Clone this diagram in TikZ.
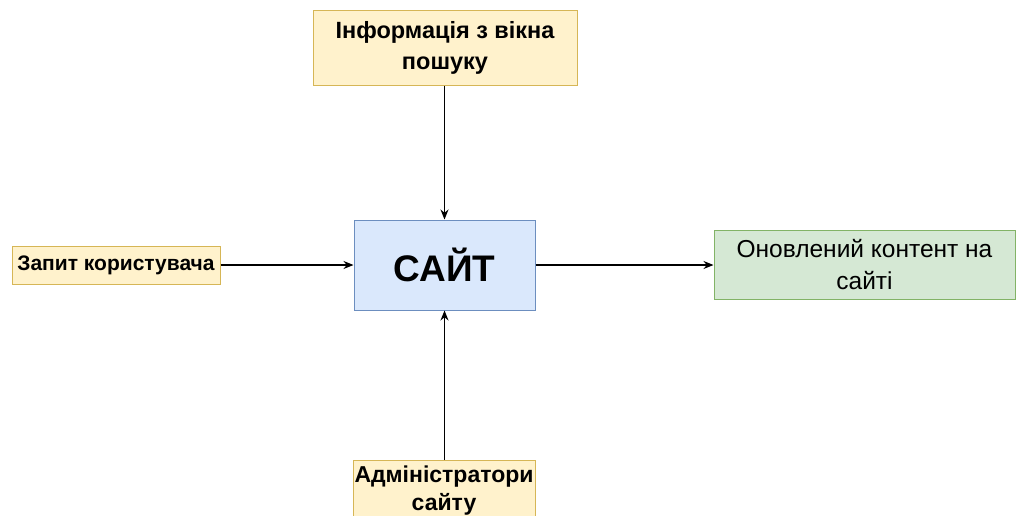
\documentclass[tikz,border=0pt]{standalone}
\usepackage{fontspec}
\setmainfont{Liberation Sans}
\usetikzlibrary{arrows.meta}
\definecolor{inFill}{HTML}{FFF2CC}
\definecolor{inLine}{HTML}{D6B656}
\definecolor{coreFill}{HTML}{DAE8FC}
\definecolor{coreLine}{HTML}{6C8EBF}
\definecolor{outFill}{HTML}{D5E8D4}
\definecolor{outLine}{HTML}{82B366}
\tikzset{
  boxbase/.style={draw, line width=1pt, inner sep=0pt, align=center, text=black},
  inbox/.style={boxbase, fill=inFill, draw=inLine},
  corebox/.style={boxbase, fill=coreFill, draw=coreLine},
  outbox/.style={boxbase, fill=outFill, draw=outLine},
  flow/.style={draw=black, line width=1.2pt, -{Stealth[length=10pt,width=8pt]}}
}
\begin{document}
\begin{tikzpicture}[x=1pt,y=-1pt]
  \useasboundingbox (0,0) rectangle (1017,515);
  \clip (0,0) rectangle (1017,515);
  % inputs, process and result
  \node[inbox, minimum width=264pt, minimum height=75pt,
        font=\fontsize{23.5}{31}\selectfont\bfseries] (search) at (445,47.5)
        {Інформація з вікна\\пошуку};
  \node[inbox, minimum width=208pt, minimum height=38pt,
        font=\fontsize{21}{24}\selectfont\bfseries] (query) at (116,265)
        {Запит користувача};
  \node[corebox, minimum width=181pt, minimum height=90pt,
        font=\fontsize{37}{40}\selectfont\bfseries] (site) at (444.5,265)
        {САЙТ};
  \node[outbox, minimum width=301pt, minimum height=69pt,
        font=\fontsize{24.5}{32}\selectfont] (result) at (864.5,264.5)
        {Оновлений контент на\\сайті};
  \node[inbox, minimum width=182pt, minimum height=62pt,
        font=\fontsize{23}{28}\selectfont\bfseries] (admin) at (444,491)
        {Адміністратори\\сайту};
  % connectors
  \draw[flow] (search.south -| site.north) -- (site.north);
  \draw[flow] (query.east) -- (site.west);
  \draw[flow] (site.east) -- (result.west |- site.east);
  \draw[flow] (admin.north -| site.south) -- (site.south);
\end{tikzpicture}
\end{document}
